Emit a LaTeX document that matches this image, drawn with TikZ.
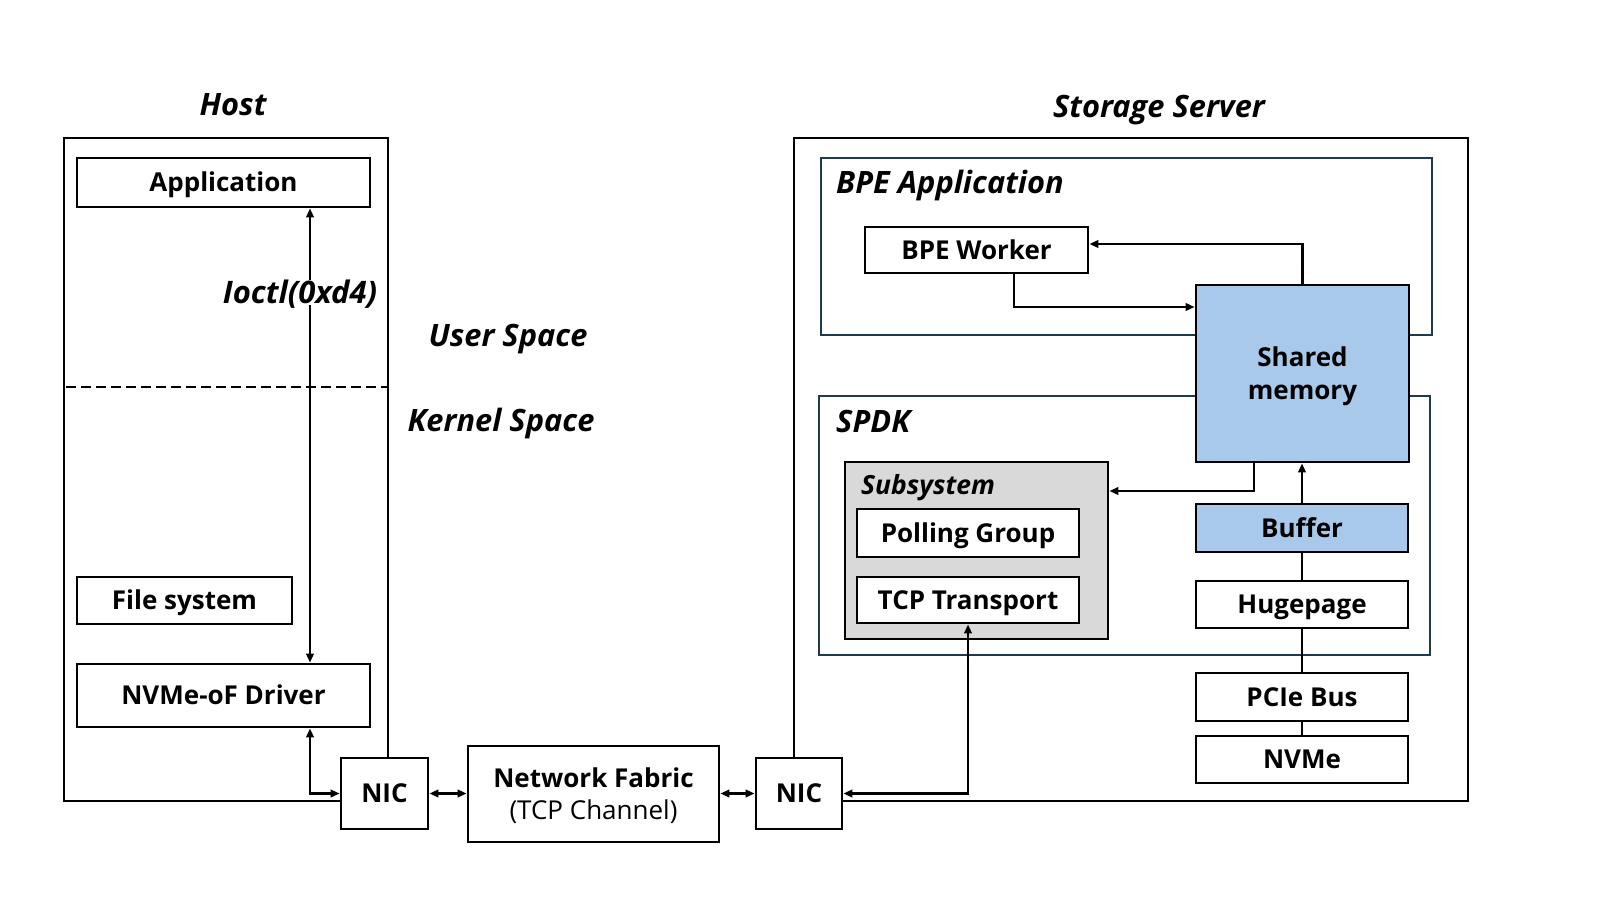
\documentclass[tikz,border=0pt]{standalone}
\usepackage{fontspec}
\setmainfont{Open Sans}
\usetikzlibrary{arrows.meta}
\definecolor{memblue}{HTML}{A8C9EA}
\definecolor{subgray}{HTML}{D9D9D9}
\definecolor{tealframe}{HTML}{1E3A4C}
\begin{document}
\begin{tikzpicture}[x=1pt,y=-1pt,
  box/.style={draw=black, line width=2.8pt, fill=white, inner sep=0pt, align=center,
    font=\fontsize{26}{32.6}\selectfont\bfseries, text height=18.6pt, text depth=0pt},
  bluebox/.style={box, fill=memblue},
  frame/.style={draw=black, line width=2.8pt},
  tealbox/.style={draw=tealframe, line width=2.6pt},
  title/.style={font=\fontsize{30.8}{36}\selectfont\bfseries\itshape, inner sep=0pt,
    text height=22pt, text depth=0pt},
  subtitle/.style={font=\fontsize{26.4}{30}\selectfont\bfseries\itshape, inner sep=0pt,
    text height=18.9pt, text depth=0pt},
  conn/.style={line width=2.5pt},
  sarr/.style={conn, -{Triangle[length=9pt,width=7.5pt]}},
  dbl/.style={conn, {Triangle[length=9pt,width=7.5pt]}-{Triangle[length=9pt,width=7.5pt]}}
]
\useasboundingbox (0,0) rectangle (1600,900);

% outer frames
\draw[frame] (64,138) rectangle (388,801);
\draw[frame] (794,138) rectangle (1468,801);
\node[title] (hostT) at (233,104) {Host};
\node[title] (storT) at (1159,106) {Storage Server};
\node[title] (userT) at (508,335) {User Space};
\node[title] (kernT) at (501,420) {Kernel Space};
\draw[line width=2.8pt, dash pattern=on 10pt off 5pt] (66,387) -- (388,387);

% inner frames
\draw[tealbox] (821,158) rectangle (1432,335);
\node[title, anchor=west] (bpeT) at (836,182) {BPE Application};
\draw[tealbox] (819,396) rectangle (1430,655);
\node[title, anchor=west] (spdkT) at (836,421) {SPDK};

% host nodes
\node[box, minimum width=293pt, minimum height=49pt] (app) at (223.5,182.5) {Application};
\node[box, minimum width=215pt, minimum height=47pt] (fs) at (184.5,600.5) {File system};
\node[box, minimum width=293pt, minimum height=63pt] (drv) at (223.5,695.5) {NVMe-oF Driver};
\node[box, minimum width=87pt, minimum height=71pt] (nicL) at (384.5,793.5) {NIC};
\node[box, minimum width=251pt, minimum height=96pt, text height=51.2pt] (fabric) at (593.5,794) {Network Fabric\\{\mdseries (TCP Channel)}};
\node[box, minimum width=86pt, minimum height=71pt] (nicR) at (799,793.5) {NIC};

% storage nodes
\node[box, minimum width=223pt, minimum height=46pt] (worker) at (976.5,250) {BPE Worker};
\node[bluebox, minimum width=213pt, minimum height=177pt, text height=51.2pt] (shm) at (1302.5,373.5) {Shared\\memory};
\node[box, fill=subgray, minimum width=263pt, minimum height=177pt] (subsys) at (976.5,550.5) {};
\node[subtitle, anchor=west] (subT) at (861,485) {Subsystem};
\node[box, minimum width=222pt, minimum height=48pt] (poll) at (968,533) {Polling Group};
\node[box, minimum width=222pt, minimum height=46pt] (tcp) at (968,600) {TCP Transport};
\node[bluebox, minimum width=212pt, minimum height=48pt] (buffer) at (1302,528) {Buffer};
\node[box, minimum width=212pt, minimum height=47pt] (huge) at (1302,604.5) {Hugepage};
\node[box, minimum width=212pt, minimum height=48pt] (pcie) at (1302,697) {PCIe Bus};
\node[box, minimum width=212pt, minimum height=47pt] (nvme) at (1302,759.5) {NVMe};

% helper coordinates
\coordinate (cx1) at (310,0);
\coordinate (y307) at (0,307);
\coordinate (y491) at (0,491);

% host connectors
\draw[dbl] (cx1 |- app.south) -- (cx1 |- drv.north);
\node[font=\fontsize{31}{36}\selectfont\bfseries\itshape, fill=white, inner sep=1.5pt,
  text height=22pt, text depth=0pt] (ioctl) at (300,292) {Ioctl(0xd4)};
\draw[dbl] (cx1 |- drv.south) |- (nicL.west);
\draw[dbl] (nicL.east) -- (nicL.east -| fabric.west);
\draw[dbl] (fabric.east |- nicR.west) -- (nicR.west);
\draw[dbl] (nicR.east) -| (tcp.south);

% storage connectors
\draw[sarr] (shm.north) |- ([yshift=6pt]worker.east);
\draw[sarr] ([xshift=37.5pt]worker.south) |- (shm.west |- y307);
\draw[sarr] ([xshift=-48.5pt]shm.south) |- (subsys.east |- y491);
\draw[sarr] (buffer.north) -- (buffer.north |- shm.south);
\draw[line width=2.8pt] (buffer.south) -- (huge.north);
\draw[line width=2.8pt] (huge.south) -- (pcie.north);
\draw[line width=2.8pt] (pcie.south) -- (nvme.north);
\end{tikzpicture}
\end{document}
